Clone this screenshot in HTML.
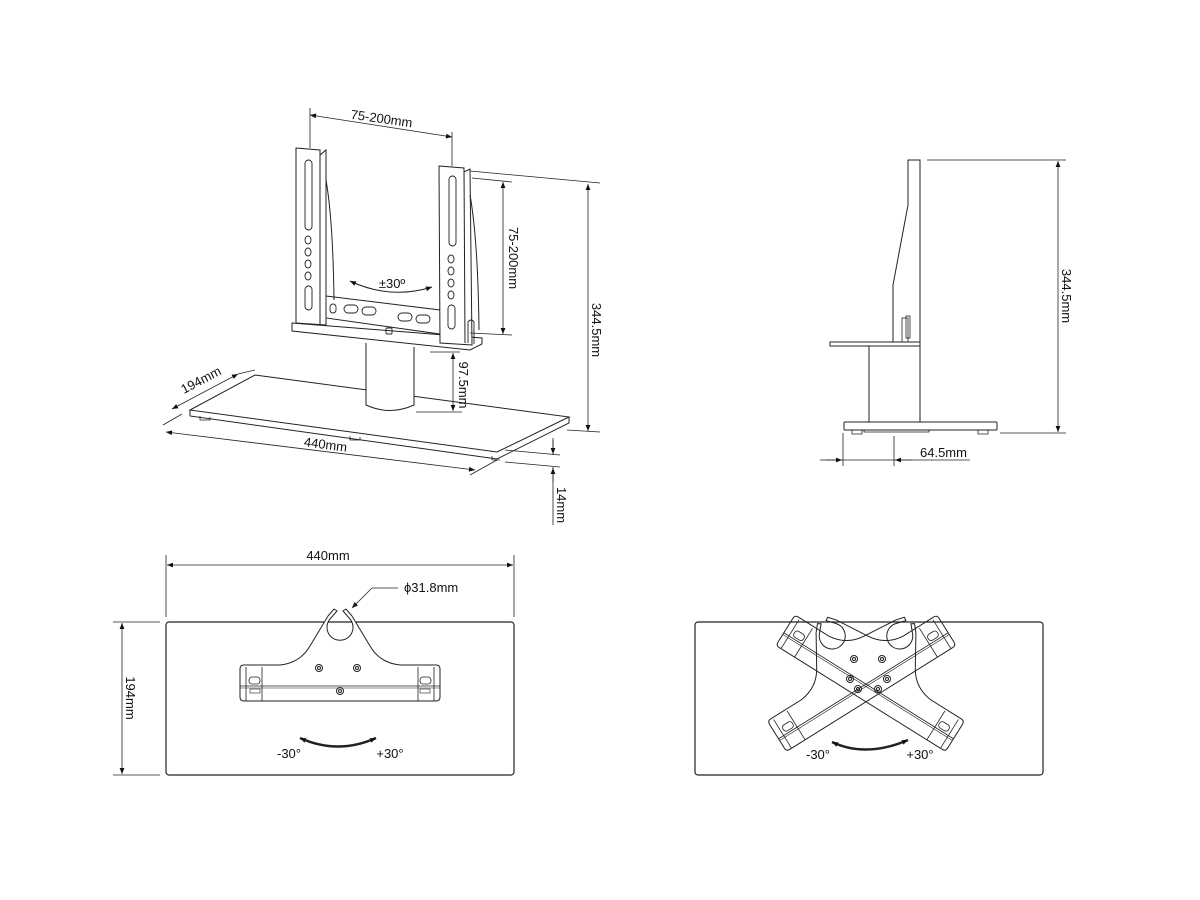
<!DOCTYPE html>
<html><head><meta charset="utf-8"><style>
html,body{margin:0;padding:0;background:#fff}
svg{display:block}
text{font-family:"Liberation Sans",sans-serif;font-size:13px;fill:#111}
</style></head><body>
<svg width="1200" height="900" viewBox="0 0 1200 900" xmlns="http://www.w3.org/2000/svg">
<defs>
<marker id="a" viewBox="0 0 10 10" refX="10" refY="5" markerWidth="9" markerHeight="6" orient="auto-start-reverse" markerUnits="userSpaceOnUse"><path d="M0,1 L10,5 L0,9 z" fill="#111"/></marker>
<g id="br">
  <path d="M-100,-22 Q-100,-26 -96,-26 L-60,-26 Q-40,-28 -30,-45 L-12,-75 L-6,-82 L-3,-80 L-10,-72 A13,13 0 1 0 10,-72 L3,-80 L6,-82 L12,-75 L30,-45 Q40,-28 60,-26 L96,-26 Q100,-26 100,-22 L100,6 Q100,10 96,10 L-96,10 Q-100,10 -100,6 Z" fill="#fff" stroke="#222" stroke-width="1"/>
  <line x1="-100" y1="-5" x2="100" y2="-5" stroke="#222" stroke-width="0.8"/>
  <line x1="-100" y1="-3" x2="100" y2="-3" stroke="#222" stroke-width="0.6"/>
  <path d="M-94,-24 V10 M-78,-24 V10 M94,-24 V10 M78,-24 V10" stroke="#222" stroke-width="0.8"/>
  <rect x="-91" y="-14" width="11" height="7" rx="3" fill="none" stroke="#222" stroke-width="0.8"/>
  <rect x="80" y="-14" width="11" height="7" rx="3" fill="none" stroke="#222" stroke-width="0.8"/>
  <rect x="-90" y="-2" width="10" height="4" fill="none" stroke="#222" stroke-width="0.6"/>
  <rect x="80" y="-2" width="10" height="4" fill="none" stroke="#222" stroke-width="0.6"/>
</g>
<g id="brx">
  <path d="M-100,-22 Q-100,-26 -96,-26 L-60,-26 Q-40,-28 -30,-45 L-12,-75 L-6,-82 L-3,-80 L-10,-72 A13,13 0 1 0 10,-72 L3,-80 L6,-82 L12,-75 L30,-45 Q40,-28 60,-26 L96,-26 Q100,-26 100,-22 L100,6 Q100,10 96,10 L-96,10 Q-100,10 -100,6 Z" fill="none" stroke="#222" stroke-width="1"/>
  <line x1="-100" y1="-5" x2="100" y2="-5" stroke="#222" stroke-width="0.8"/>
  <line x1="-100" y1="-3" x2="100" y2="-3" stroke="#222" stroke-width="0.6"/>
  <path d="M-94,-24 V10 M-78,-24 V10 M94,-24 V10 M78,-24 V10" stroke="#222" stroke-width="0.8"/>
  <rect x="-91" y="-14" width="11" height="7" rx="3" fill="none" stroke="#222" stroke-width="0.8"/>
  <rect x="80" y="-14" width="11" height="7" rx="3" fill="none" stroke="#222" stroke-width="0.8"/>
</g>
<g id="sc"><circle r="3.5" fill="none" stroke="#222"/><circle r="1.5" fill="none" stroke="#222"/></g>
</defs>
<g fill="none" stroke="#222" stroke-width="1">
<path d="M255,375 L569,417 L497,452 L190,410 Z" fill="#fff"/>
<path d="M190,410 L190,416 L497,459 L569,423 L569,417" />
<path d="M200,416 v4 h10 v-3 M350,436 v4 h10 v-3 M492,456 v4 h8" stroke-width="0.8"/>
<path d="M366,343 V405 Q390,416 414,405 V347" fill="#fff"/>
<path d="M292,323 L482,338 L482,344 L470,350 L292,331 Z" fill="#fff"/>
<path d="M326,296 L440,310 L440,334 L326,318 Z" fill="#fff"/>
<g stroke-width="0.9">
<rect x="330" y="304" width="6" height="9" rx="3"/>
<rect x="344" y="305" width="14" height="8" rx="4"/>
<rect x="362" y="307" width="14" height="8" rx="4"/>
<rect x="398" y="313" width="14" height="8" rx="4"/>
<rect x="416" y="315" width="14" height="8" rx="4"/>
<rect x="386" y="328" width="6" height="6" rx="1"/>
</g>
<path d="M296,148 L320,150 L320,155 L326,150 L326,325 L296,323 Z" fill="#fff"/>
<line x1="320" y1="150" x2="320" y2="324"/>
<path d="M326,180 Q333,220 334,300"/>
<rect x="305" y="160" width="7" height="70" rx="3.5" stroke-width="0.9"/>
<g stroke-width="0.9"><ellipse cx="308" cy="240" rx="3" ry="4"/><ellipse cx="308" cy="252" rx="3" ry="4"/><ellipse cx="308" cy="264" rx="3" ry="4"/><ellipse cx="308" cy="276" rx="3" ry="4"/><rect x="305" y="286" width="7" height="24" rx="3.5"/></g>
<path d="M439,166 L464,168 L464,172 L470,169 L472,345 L440,343 Z" fill="#fff"/>
<line x1="464" y1="168" x2="465" y2="343"/>
<path d="M470,195 Q478,240 479,330"/>
<rect x="449" y="176" width="7" height="70" rx="3.5" stroke-width="0.9"/>
<g stroke-width="0.9"><ellipse cx="451" cy="259" rx="3" ry="4"/><ellipse cx="451" cy="271" rx="3" ry="4"/><ellipse cx="451" cy="283" rx="3" ry="4"/><ellipse cx="451" cy="295" rx="3" ry="4"/><rect x="448" y="305" width="7" height="24" rx="3.5"/><path d="M468,343 V322 Q471,318 474,322 V344"/></g>
<path d="M350,281 Q390,300 432,287" marker-start="url(#a)" marker-end="url(#a)"/>
</g>
<g stroke="#222" stroke-width="0.8" fill="none">
<path d="M310,108 V148 M452,132 V166"/>
<path d="M310,115 L452,137" marker-start="url(#a)" marker-end="url(#a)"/>
<path d="M470,171 L600,183 M472,178 L512,182 M470,333 L512,335 M430,352 L460,352 M416,412 L462,412 M567,430 L600,432"/>
<path d="M503,182 V334" marker-start="url(#a)" marker-end="url(#a)"/>
<path d="M588,184 V431" marker-start="url(#a)" marker-end="url(#a)"/>
<path d="M453,353 V411" marker-start="url(#a)" marker-end="url(#a)"/>
<path d="M172,409 L238,374" marker-start="url(#a)" marker-end="url(#a)"/>
<path d="M163,425 L182,414 M238,374 L255,370 M470,475 L497,460"/>
<path d="M166,432 L475,470" marker-start="url(#a)" marker-end="url(#a)"/>
<path d="M505,450 L560,455 M505,462 L560,467"/>
<path d="M553,438 V455 M553,485 V467 M553,485 V525" />
<path d="M553,440 V454" marker-end="url(#a)"/>
<path d="M553,482 V468" marker-end="url(#a)"/>
</g>
<text x="381" y="123" text-anchor="middle" transform="rotate(8 381 123)">75-200mm</text>
<text transform="translate(509,258) rotate(90)" text-anchor="middle">75-200mm</text>
<text transform="translate(592,330) rotate(90)" text-anchor="middle">344.5mm</text>
<text transform="translate(459,385) rotate(90)" text-anchor="middle">97.5mm</text>
<text transform="translate(203,384) rotate(-28)" text-anchor="middle">194mm</text>
<text transform="translate(325,449) rotate(7.5)" text-anchor="middle">440mm</text>
<text transform="translate(557,505) rotate(90)" text-anchor="middle">14mm</text>
<text x="392" y="288" text-anchor="middle">±30º</text>

<g fill="#fff" stroke="#222" stroke-width="1">
<path d="M908,160 H920 V343 H893 V285 L908,205 Z"/>
<rect x="902" y="318" width="6" height="25" fill="none" stroke-width="0.8"/>
<rect x="906" y="316" width="4" height="22" fill="none" stroke-width="0.8"/>
<rect x="830" y="342" width="90" height="4"/>
<rect x="869" y="346" width="51" height="76"/>
<rect x="844" y="422" width="153" height="8" rx="1"/>
<path d="M852,430 v4 h10 v-4 M978,430 v4 h10 v-4 M864,430 v2 h65 v-2" fill="none" stroke-width="0.8"/>
</g>
<g stroke="#222" stroke-width="0.8" fill="none">
<path d="M927,160 H1066 M1000,433 H1066"/>
<path d="M1058,161 V432" marker-start="url(#a)" marker-end="url(#a)"/>
<path d="M843,433 V466 M894,436 V466 M820,460 H970"/>
<path d="M825,460 H842" marker-end="url(#a)"/>
<path d="M912,460 H895" marker-end="url(#a)"/>
</g>
<text transform="translate(1062,296) rotate(90)" text-anchor="middle">344.5mm</text>
<text x="920" y="457">64.5mm</text>

<g stroke="#222" fill="none">
<rect x="166" y="622" width="348" height="153" rx="3" stroke-width="1.2"/>
<g stroke-width="0.8">
<path d="M166,555 V617 M514,555 V617"/>
<path d="M167,565 H513" marker-start="url(#a)" marker-end="url(#a)"/>
<path d="M113,622 H160 M113,775 H160"/>
<path d="M122,623 V774" marker-start="url(#a)" marker-end="url(#a)"/>
<path d="M398,588 H372 L352,608" marker-end="url(#a)"/>
</g>
<use href="#br" x="340" y="691"/>
<use href="#sc" x="319" y="668"/><use href="#sc" x="357" y="668"/><use href="#sc" x="340" y="691"/>
<path d="M300,738 Q338,755 376,738" stroke-width="2.5" marker-start="url(#a)" marker-end="url(#a)"/>
</g>
<text x="328" y="560" text-anchor="middle">440mm</text>
<text transform="translate(126,698) rotate(90)" text-anchor="middle">194mm</text>
<text x="404" y="592">ϕ31.8mm</text>
<text x="289" y="758" text-anchor="middle">-30°</text>
<text x="390" y="758" text-anchor="middle">+30°</text>

<g stroke="#222" fill="none">
<rect x="695" y="622" width="348" height="153" rx="3" stroke-width="1.2"/>
<g transform="translate(866,690) rotate(32)"><use href="#brx"/></g>
<g transform="translate(866,690) rotate(-32)"><use href="#brx"/></g>
<use href="#sc" x="854" y="659"/><use href="#sc" x="882" y="659"/><use href="#sc" x="850" y="679"/><use href="#sc" x="887" y="679"/><use href="#sc" x="858" y="689"/><use href="#sc" x="878" y="689"/>
<path d="M832,742 Q866,758 908,740" stroke-width="2.5" marker-start="url(#a)" marker-end="url(#a)"/>
</g>
<text x="818" y="759" text-anchor="middle">-30°</text>
<text x="920" y="759" text-anchor="middle">+30°</text>
</svg>
</body></html>
